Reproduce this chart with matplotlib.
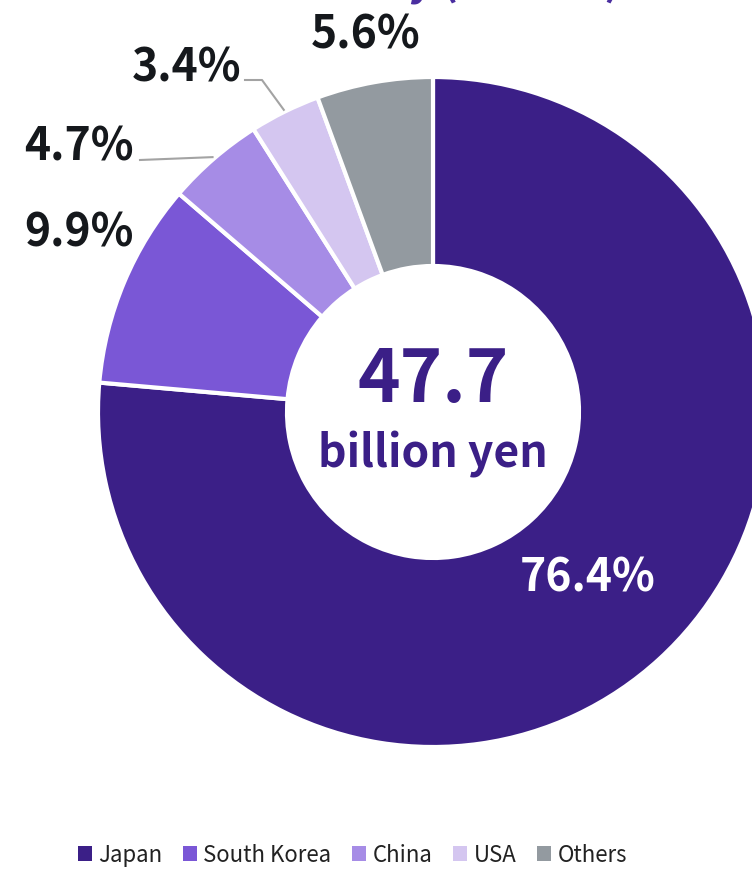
import numpy as np
import matplotlib.pyplot as plt
from matplotlib.patches import Patch

# ============================================
# Data
# ============================================

countries = ["Japan", "South Korea", "China", "USA", "Others"]
shares = [76.4, 9.9, 4.7, 3.4, 5.6]
colors = ["#3b1f87", "#7a57d6", "#a68ce6", "#d4c6f0", "#939aa0"]
total_value = "47.7"
total_unit = "billion yen"
title_text = "Sales Share of Each Country (FY2022)"

# ============================================
# Layout (pixel coords, image y goes down)
# ============================================

W, H = 752, 871
cx, cy = 433, 412
r_out, r_in = 335, 146

plt.rcParams["font.family"] = ["Noto Sans CJK KR", "DejaVu Sans"]

fig = plt.figure(figsize=(W / 100, H / 100), dpi=100)
ax = fig.add_axes([0, 0, 1, 1])


def Y(y):
    return H - y


wedges, _ = ax.pie(
    shares,
    colors=colors,
    startangle=90,
    counterclock=False,
    center=(cx, Y(cy)),
    radius=r_out,
    wedgeprops=dict(width=r_out - r_in, edgecolor="white", linewidth=3),
    frame=True,
)
ax.set_xlim(0, W)
ax.set_ylim(0, H)
ax.set_aspect("equal")
ax.axis("off")

# mid angles of each wedge (degrees, standard orientation)
cum = np.cumsum([0] + shares)
mid = [90 - 3.6 * (cum[i] + shares[i] / 2) for i in range(len(shares))]


def outer_point(i, r=r_out):
    a = np.deg2rad(mid[i])
    return cx + r * np.cos(a), cy - r * np.sin(a)


lab_kw = dict(fontsize=32, fontweight="bold", color="#15181c", va="center")

# Japan label inside the ring
ax.text(588, Y(578), f"{shares[0]}%", ha="center", fontsize=32,
        fontweight="bold", color="white", va="center")

# South Korea
ax.text(24, Y(233), f"{shares[1]}%", ha="left", **lab_kw)

# China, with leader line
ax.text(24, Y(147), f"{shares[2]}%", ha="left", **lab_kw)
px, py = outer_point(2, r_out + 2)
ax.plot([140, px], [Y(160), Y(py)], color="#a3a3a3", lw=1.5)

# USA, with elbow leader line
ax.text(132, Y(68), f"{shares[3]}%", ha="left", **lab_kw)
px, py = outer_point(3, r_out + 2)
ax.plot([245, 262, px], [Y(80), Y(80), Y(py)], color="#a3a3a3", lw=1.5)

# Others
ax.text(366, Y(35), f"{shares[4]}%", ha="center", **lab_kw)

# centre text
ax.text(cx, Y(381), total_value, ha="center", va="center", fontsize=52,
        fontweight="bold", color="#3b1f87")
ax.text(cx, Y(454), total_unit, ha="center", va="center", fontsize=32,
        fontweight="bold", color="#3b1f87")

# title, mostly cut off by the top edge
ax.text(620, Y(-5), title_text, ha="right", va="baseline", fontsize=30,
        fontweight="bold", color="#4a2ea0")

# legend
handles = [Patch(facecolor=c, edgecolor="none") for c in colors]
fig.legend(
    handles,
    countries,
    loc="center left",
    bbox_to_anchor=(78 / W, 1 - 855 / H),
    ncol=5,
    frameon=False,
    fontsize=16,
    borderpad=0,
    borderaxespad=0,
    handlelength=0.62,
    handleheight=0.62,
    handletextpad=0.28,
    columnspacing=0.95,
    labelcolor="#222222",
)

fig.savefig("out.png", dpi=100)
